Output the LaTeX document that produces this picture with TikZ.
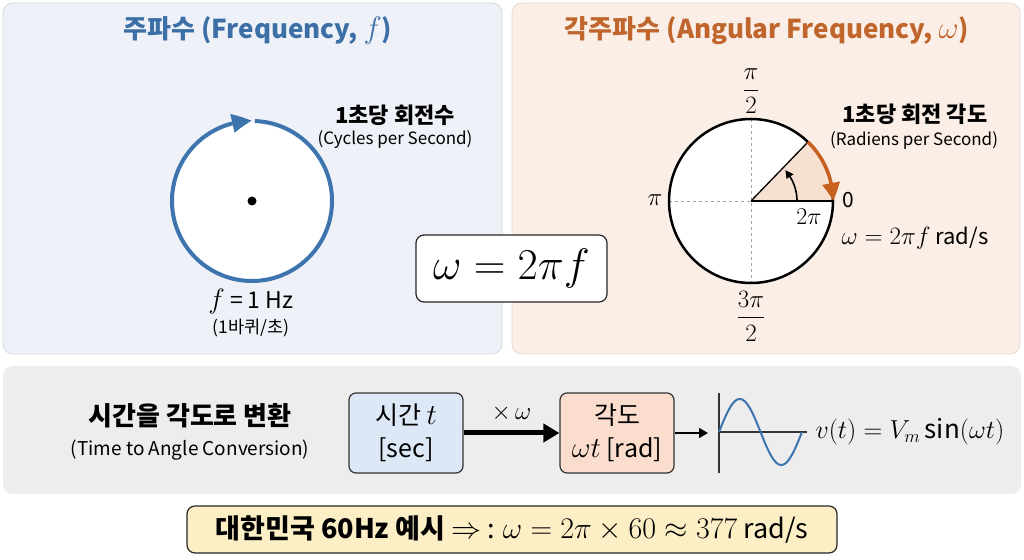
\RequirePackage{fix-cm}
\documentclass[tikz,border=0pt]{standalone}
\usepackage{fontspec}
\setmainfont{Noto Sans CJK KR}
\usetikzlibrary{arrows.meta,bending,calc}
\definecolor{lpanel}{HTML}{EEF2F8}
\definecolor{lborder}{HTML}{D3D8DF}
\definecolor{rpanel}{HTML}{FBEEE6}
\definecolor{rborder}{HTML}{E8D8CE}
\definecolor{bpanel}{HTML}{EDEDED}
\definecolor{bluet}{HTML}{3B6FA6}
\definecolor{blueline}{HTML}{3D74AE}
\definecolor{oranget}{HTML}{C0652B}
\definecolor{orangeline}{HTML}{C8611F}
\definecolor{sector}{HTML}{F8E0D1}
\definecolor{box1fill}{HTML}{DCE8F5}
\definecolor{box2fill}{HTML}{FADDCC}
\definecolor{yellowfill}{HTML}{FCEFC6}
\newcommand{\mymth}[2]{{\fontsize{#1}{#1}\selectfont$#2$}}
\tikzset{
  panel/.style={rounded corners=10pt, line width=0.8pt},
  ttl/.style={font=\fontsize{26}{30}\selectfont\bfseries},
  lbl/.style={font=\fontsize{22}{26}\selectfont\bfseries},
  sublbl/.style={font=\fontsize{17}{20}\selectfont},
  flowbox/.style={draw=black!80, line width=1.2pt, rounded corners=7pt,
    minimum width=114pt, minimum height=80pt, align=center,
    font=\fontsize{25}{33}\selectfont},
}
\begin{document}
\begin{tikzpicture}[x=1pt,y=1pt]
\useasboundingbox (0,0) rectangle (1024,559);
\fill[white] (0,0) rectangle (1024,559);
% panels
\filldraw[panel, fill=lpanel, draw=lborder] (3,556) rectangle (502,205);
\filldraw[panel, fill=rpanel, draw=rborder] (512,556) rectangle (1020,205);
\fill[panel, fill=bpanel] (3,193) rectangle (1021,65);
% titles
\node[ttl, text=bluet] (ltitle) at (258,528) {주파수 (Frequency, \mymth{31}{f})};
\node[ttl, text=oranget] (rtitle) at (767,528) {각주파수 (Angular Frequency, \mymth{31}{\omega})};
% left circle
\coordinate (lc) at (252,358);
\fill[white] (lc) circle[radius=80];
\draw[blueline, line width=4pt, -{Triangle[length=20pt,width=18pt,bend]}]
  ($(lc)+(88:80)$) arc[start angle=88, end angle=-270, radius=80];
\fill[black] (lc) circle[radius=4.5];
\node[lbl] (lrot) at (395,444) {1초당 회전수};
\node[sublbl] (lcyc) at (395,419) {(Cycles per Second)};
\node[font=\fontsize{23}{26}\selectfont] (lf) at (251,257) {\mymth{28}{f} = 1 Hz};
\node[font=\fontsize{17.5}{22}\selectfont] (lturn) at (251,231) {(1바퀴/초)};
% formula box
\node[draw=black!85, line width=1.2pt, fill=white, rounded corners=8pt,
  minimum width=191pt, minimum height=67pt, font=\fontsize{44}{50}\selectfont]
  (formula) at (511.5,290.5) {$\omega = 2\pi f$};
% right circle
\coordinate (rc) at (751,358);
\fill[white] (rc) circle[radius=82];
\fill[sector] (rc) -- ++(0:82) arc[start angle=0, end angle=46, radius=82] -- cycle;
\draw[gray!70, dashed, line width=0.8pt] ($(rc)+(180:82)$) -- (rc);
\draw[gray!70, dashed, line width=0.8pt] ($(rc)+(90:82)$) -- ($(rc)+(270:82)$);
\draw[black, line width=1.3pt] (rc) -- ++(0:82);
\draw[black, line width=1.3pt] (rc) -- ++(46:82);
\draw[black, line width=2.5pt] (rc) circle[radius=82];
\draw[orangeline, line width=3.5pt, -{Triangle[length=18pt,width=17pt,bend]}]
  ($(rc)+(46:82)$) arc[start angle=46, end angle=0, radius=82];
\draw[black, line width=1.6pt, -{Triangle[length=8pt,width=8pt,bend]}]
  ($(rc)+(0:46)$) arc[start angle=0, end angle=42, radius=46];
\node[font=\fontsize{25}{27}\selectfont, inner sep=1pt] (piHalf) at (751,468) {$\displaystyle\frac{\pi}{2}$};
\node[font=\fontsize{25}{27}\selectfont, inner sep=1pt] (threePiHalf) at (751,243) {$\displaystyle\frac{3\pi}{2}$};
\node[font=\fontsize{25}{28}\selectfont] (piL) at (655,359) {$\pi$};
\node[font=\fontsize{21}{24}\selectfont] (zeroL) at (848,359) {0};
\node[font=\fontsize{24}{27}\selectfont] (twoPi) at (809,342) {$2\pi$};
\node[lbl] (rrot) at (915,445) {1초당 회전 각도};
\node[sublbl] (rrad) at (914,419) {(Radiens per Second)};
\node[font=\fontsize{22}{25}\selectfont] (romega) at (915,321) {\mymth{25}{\omega = 2\pi f} rad/s};
% bottom section
\node[font=\fontsize{26}{30}\selectfont\bfseries] (convK) at (190,143) {시간을 각도로 변환};
\node[font=\fontsize{19}{22}\selectfont] (convE) at (190,109) {(Time to Angle Conversion)};
\node[flowbox, fill=box1fill] (tbox) at (406,126) {시간 \mymth{29}{t}\\{[sec]}};
\node[flowbox, fill=box2fill] (abox) at (617,126) {각도\\\mymth{29}{\omega t} [rad]};
\draw[line width=5pt, -{Triangle[length=16pt,width=18pt]}] (tbox.east) -- (abox.west)
  node[midway, above=6pt, font=\fontsize{25}{28}\selectfont] (mulw) {$\times\,\omega$};
\coordinate (sinIn) at (708,126);
\draw[line width=1.5pt, -{Triangle[length=9pt,width=10pt]}] (abox.east) -- (sinIn);
\coordinate (axTop) at (719,166);
\coordinate (axBot) at (719,86);
\coordinate (axL) at (719,127);
\coordinate (axR) at (807,127);
\draw[black!80, line width=1.2pt] (axTop) -- (axBot);
\draw[black!80, line width=1.2pt] (axL) -- (axR);
\draw[blueline, line width=2pt, domain=0:83, samples=80, smooth]
  plot ({719+\x},{127+33*sin(\x/83*360)});
\node[anchor=west, font=\fontsize{26}{30}\selectfont] (vt) at (812,127) {$v(t) = V_m\sin(\omega t)$};
% yellow box
\node[draw=black!85, line width=1.2pt, fill=yellowfill, rounded corners=8pt,
  minimum width=650pt, minimum height=47pt, font=\fontsize{27}{30}\selectfont]
  (example) at (512,29.5) {\textbf{대한민국 60Hz 예시} \mymth{30}{\Rightarrow} : \mymth{30}{\omega = 2\pi\times 60\approx 377} rad/s};
\end{tikzpicture}
\end{document}
